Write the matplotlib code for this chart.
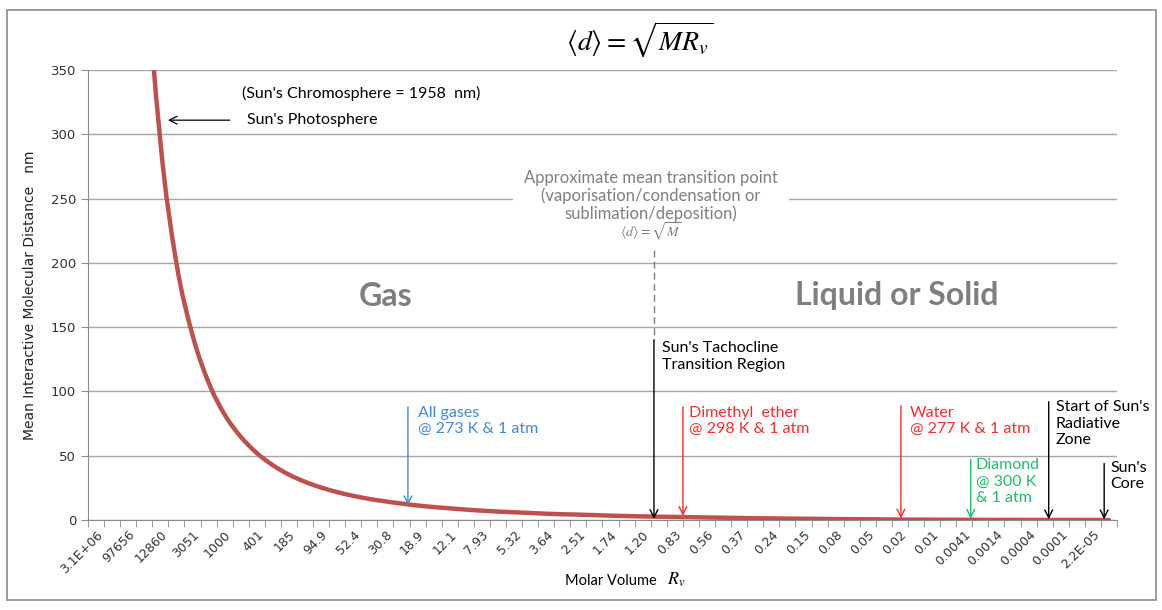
import numpy as np
import matplotlib.pyplot as plt
from matplotlib.patches import Rectangle, PathPatch
from matplotlib.path import Path

# Molar volume categories (labels shown on every second category)
tick_labels = ['3.1E+06', '97656', '12860', '3051', '1000', '401', '185', '94.9',
               '52.4', '30.8', '18.9', '12.1', '7.93', '5.32', '3.64', '2.51',
               '1.74', '1.20', '0.83', '0.56', '0.37', '0.24', '0.15', '0.08',
               '0.05', '0.02', '0.01', '0.0041', '0.0014', '0.0004', '0.0001', '2.2E-05']

# mean interactive molecular distance (nm), one value per category
dist = [4590, 1668, 813, 465, 295, 200, 144, 107, 82, 64.8, 52.1, 42.6, 35.3, 29.7,
        25.3, 21.7, 18.8, 16.4, 14.5, 12.8, 11.3, 10.1, 9.1, 8.1, 7.3, 6.6, 6.0, 5.5,
        4.9, 4.5, 4.2, 3.8, 3.4, 3.1, 2.8, 2.6, 2.4, 2.2, 2.0, 1.8, 1.6, 1.4, 1.3,
        1.1, 1.0, 0.87, 0.74, 0.66, 0.59, 0.47, 0.37, 0.31, 0.26, 0.21, 0.17, 0.13,
        0.10, 0.08, 0.055, 0.04, 0.03, 0.02, 0.013, 0.008]

TXT = ['Lato', 'DejaVu Sans']
GRAY = '#7f7f7f'
BLUE = '#3d8bd6'
RED = '#ff2a2a'
GREEN = '#1fbf6a'
FS = 11.5

fig = plt.figure(figsize=(11.62, 6.10), dpi=100)
fig.patches.append(Rectangle((0.006, 0.016), 0.989, 0.968, transform=fig.transFigure,
                             fill=False, edgecolor='#8c8c8c', lw=1.2))
ax = fig.add_axes([0.0757, 0.1475, 0.8856, 0.7377])

# smoothed line (like Excel's smoothed line) built as bezier segments through the points
x = np.arange(len(dist), dtype=float)
y = np.array(dist, dtype=float)
verts = [(x[0], y[0])]
codes = [Path.MOVETO]
for i in range(len(x) - 1):
    p0 = max(i - 1, 0)
    p3 = min(i + 2, len(x) - 1)
    c1 = (x[i] + (x[i + 1] - x[p0]) / 6, y[i] + (y[i + 1] - y[p0]) / 6)
    c2 = (x[i + 1] - (x[p3] - x[i]) / 6, y[i + 1] - (y[p3] - y[i]) / 6)
    verts += [c1, c2, (x[i + 1], y[i + 1])]
    codes += [Path.CURVE4] * 3
ax.add_patch(PathPatch(Path(verts, codes), facecolor='none', edgecolor='#c0504d',
                       lw=3.2, zorder=3, capstyle='round'))

ax.set_xlim(-0.5, len(dist) - 0.5)
ax.set_ylim(0, 350)
ax.set_yticks(np.arange(0, 351, 50))
ax.yaxis.grid(True, color='#a6a6a6', lw=1)
ax.set_axisbelow(True)
for s in ['top', 'right']:
    ax.spines[s].set_visible(False)
ax.spines['left'].set_color('#8c8c8c')
ax.spines['bottom'].set_color('#8c8c8c')
ax.tick_params(axis='y', colors='#8c8c8c', labelcolor='#333333', labelsize=9.5, length=5)

ax.set_xticks(x[::2])
ax.set_xticklabels(tick_labels, rotation=45, ha='right', va='top', rotation_mode='anchor',
                   fontsize=9, color='#333333')
ax.set_xticks(np.arange(-0.5, len(dist)), minor=True)
ax.tick_params(axis='x', which='major', length=0, pad=6)
ax.tick_params(axis='x', which='minor', length=5, color='#8c8c8c')

ax.set_ylabel('Mean Interactive Molecular Distance   nm', fontsize=10, color='#222222',
              labelpad=10)
fig.text(0.565, 0.047, 'Molar Volume', ha='right', va='center', fontsize=10.5, family=TXT)
fig.text(0.574, 0.049, r'$R_v$', ha='left', va='center', fontsize=13, math_fontfamily='stix')
fig.text(0.551, 0.935, r'$\langle d\rangle = \sqrt{MR_v}$', ha='center', va='center',
         fontsize=20, math_fontfamily='stix')

# annotations
ax.text(9.06, 332, "(Sun's Chromosphere = 1958  nm)", fontsize=FS, va='center', family=TXT)
ax.text(9.4, 311, "Sun's Photosphere", fontsize=FS, va='center', family=TXT)
ax.annotate('', xy=(4.3, 311), xytext=(8.5, 311),
            arrowprops=dict(arrowstyle='->', color='black', lw=0.9, mutation_scale=14))

ax.text(34.5, 252, 'Approximate mean transition point\n(vaporisation/condensation or\n'
        'sublimation/deposition)', ha='center', va='center', fontsize=12, color=GRAY,
        family=TXT, linespacing=1.1,
        bbox=dict(facecolor='white', edgecolor='none', pad=8))
ax.text(34.5, 224, r'$\langle d\rangle = \sqrt{M}$', ha='center', va='center', fontsize=10,
        color=GRAY, math_fontfamily='stix')
ax.plot([34.7, 34.7], [210, 140], color=GRAY, lw=1, ls=(0, (5, 3)), zorder=4)

ax.text(18.0, 174, 'Gas', fontsize=23, fontweight='bold', color=GRAY, ha='center',
        va='center', family=TXT)
ax.text(49.8, 175, 'Liquid or Solid', fontsize=23, fontweight='bold', color=GRAY,
        ha='center', va='center', family=TXT)

ax.text(35.2, 139, "Sun's Tachocline\nTransition Region", fontsize=11.5, va='top',
        family=TXT, linespacing=1.2)
ax.text(20.0, 89, 'All gases\n@ 273 K & 1 atm', fontsize=FS, va='top', color=BLUE,
        family=TXT, linespacing=1.2)
ax.text(36.9, 89, 'Dimethyl  ether\n@ 298 K & 1 atm', fontsize=FS, va='top', color=RED,
        family=TXT, linespacing=1.2)
ax.text(50.6, 89, 'Water\n@ 277 K & 1 atm', fontsize=FS, va='top', color=RED,
        family=TXT, linespacing=1.2)
ax.text(54.7, 48, 'Diamond\n@ 300 K\n& 1 atm', fontsize=FS, va='top', color=GREEN,
        family=TXT, linespacing=1.2)
ax.text(59.7, 93, "Start of Sun's\nRadiative\nZone", fontsize=FS, va='top',
        family=TXT, linespacing=1.2)
ax.text(63.1, 46, "Sun's\nCore", fontsize=FS, va='top', family=TXT, linespacing=1.2)

arrows = [(19.4, 88, 11.5, BLUE), (34.7, 140, 0.8, 'black'), (36.5, 88, 3.2, RED),
          (50.06, 89, 1.2, RED), (54.4, 47, 1.0, GREEN), (59.25, 92, 0.6, 'black'),
          (62.7, 44, 0.6, 'black')]
for xa, y0, y1, c in arrows:
    ax.annotate('', xy=(xa, y1), xytext=(xa, y0),
                arrowprops=dict(arrowstyle='->', color=c, lw=1, mutation_scale=14,
                                shrinkA=0, shrinkB=0), zorder=5)

fig.savefig('out.png', dpi=100)
